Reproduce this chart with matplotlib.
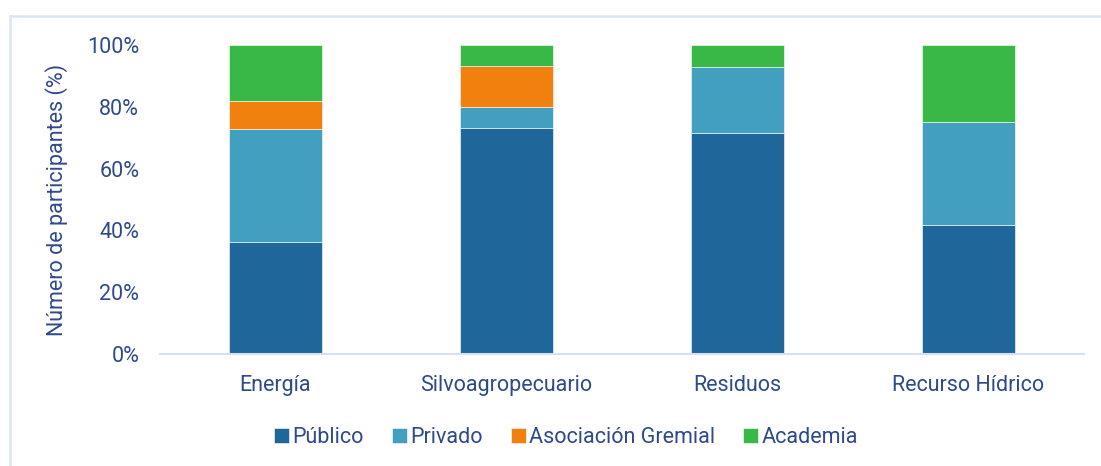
import matplotlib.pyplot as plt
import numpy as np
from matplotlib.lines import Line2D
from matplotlib.ticker import PercentFormatter

# Data (share of participants per sector, %)
sectors = ["Energía", "Silvoagropecuario", "Residuos", "Recurso Hídrico"]
publico = [36.4, 73.3, 71.4, 41.7]
privado = [36.4, 6.7, 21.4, 33.3]
gremial = [9.1, 13.3, 0.0, 0.0]
academia = [18.1, 6.7, 7.2, 25.0]

series = ["Público", "Privado", "Asociación Gremial", "Academia"]
colors = ["#1F679B", "#429FC0", "#F2800F", "#3AB847"]
txt = "#2E4A8C"

plt.rcParams['font.family'] = ['Roboto', 'DejaVu Sans']

fig = plt.figure(figsize=(11.01, 4.66), dpi=100)
ax = fig.add_axes([160 / 1101, 0.2403, 924 / 1101, 0.6631])

x = np.arange(len(sectors))
bottom = np.zeros(len(sectors))
for name, vals, c in zip(series, [publico, privado, gremial, academia], colors):
    v = np.array(vals) / 100
    ax.bar(x, v, width=0.4, bottom=bottom, color=c, label=name,
           edgecolor="white", linewidth=0.4)
    bottom += v

ax.set_xlim(-0.5, 3.5)
ax.set_ylim(0, 1)
ax.set_yticks(np.arange(0, 1.01, 0.2))
ax.yaxis.set_major_formatter(PercentFormatter(1.0, decimals=0))
ax.set_xticks(x)
ax.set_xticklabels(sectors)
ax.tick_params(axis="both", length=0, labelsize=15.5, colors=txt)
ax.tick_params(axis="x", pad=15)
ax.tick_params(axis="y", pad=15)
for s in ["top", "right", "left"]:
    ax.spines[s].set_visible(False)
ax.spines["bottom"].set_color("#D6E0F2")
ax.spines["bottom"].set_linewidth(1.5)
ax.set_ylabel("Número de participantes (%)", fontsize=15.5, color=txt, labelpad=14)

leg = fig.legend(loc="center", bbox_to_anchor=(0.514, 0.061), ncol=4, frameon=False,
                 fontsize=15.5, handlelength=0.7, handleheight=0.7,
                 handletextpad=0.15, columnspacing=1.3, labelcolor=txt)

# outer frame (top and left edges visible)
fig.add_artist(Line2D([9.5 / 1101, 9.5 / 1101], [0, 1 - 15.5 / 466],
                      transform=fig.transFigure, color="#DDE5F5", lw=1.8))
fig.add_artist(Line2D([9.5 / 1101, 1], [1 - 15.5 / 466, 1 - 15.5 / 466],
                      transform=fig.transFigure, color="#DDE5F5", lw=1.8))

fig.savefig("out.png", dpi=100)
